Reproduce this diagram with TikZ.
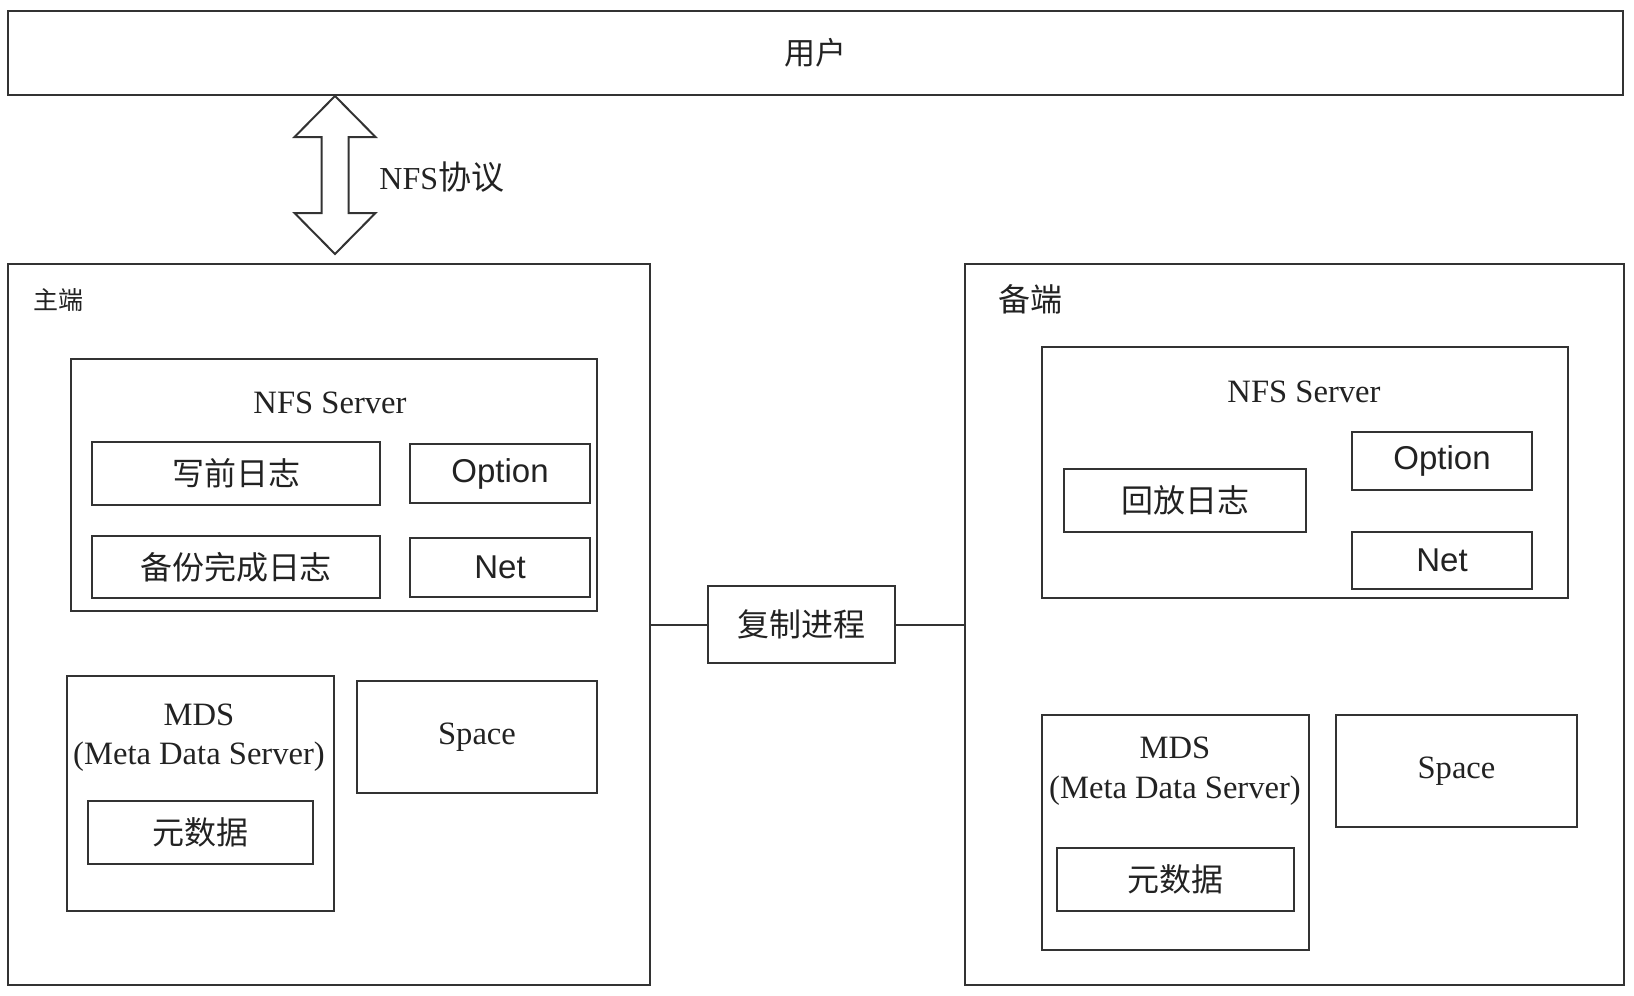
\documentclass[tikz,border=0pt]{standalone}
\usepackage{fontspec}
\setmainfont{Liberation Serif}
\newfontfamily\cjk{Noto Sans CJK SC}
\newfontfamily\hel{Liberation Sans}
\usetikzlibrary{fit,calc}
\definecolor{linec}{HTML}{333333}
\definecolor{inkc}{HTML}{222222}
\begin{document}
\begin{tikzpicture}[x=0.5pt,y=-0.5pt,
  box/.style={draw=linec, line width=1pt, inner sep=0pt},
  cn/.style={font=\cjk\fontsize{16}{19}\selectfont},
  sn/.style={font=\hel\fontsize{16.5}{19}\selectfont},
  rn/.style={font=\rmfamily\fontsize{16.3}{19}\selectfont},
  lbl/.style={inner sep=0pt, text=inkc}]
\useasboundingbox (0,0) rectangle (1634,996);

% user
\node[box, fit={(8,11) (1623,95)}] (user) {};
\node[lbl, font=\cjk\fontsize{15.5}{18}\selectfont] (usert) at (user.center) {用户};

% main side
\node[box, fit={(8,264) (650,985)}] (main) {};
\node[lbl, font=\cjk\fontsize{12.5}{15}\selectfont] (mainlbl) at (58,300) {主端};
\node[box, fit={(71,359) (597,611)}] (nfsL) {};
\node[lbl, rn] (nfsLt) at (330,403) {NFS Server};
\node[box, fit={(92,442) (380,505)}] (wal) {};
\node[lbl, cn] (walt) at (wal.center) {写前日志};
\node[box, fit={(410,444) (590,503)}] (optL) {};
\node[lbl, sn] (optLt) at (optL.center) {Option};
\node[box, fit={(92,536) (380,598)}] (bak) {};
\node[lbl, cn] (bakt) at (bak.center) {备份完成日志};
\node[box, fit={(410,538) (590,597)}] (netL) {};
\node[lbl, sn] (netLt) at (netL.center) {Net};
\node[box, fit={(67,676) (334,911)}] (mdsL) {};
\node[lbl, rn] (mdsLt) at (199,715) {MDS};
\node[lbl, rn] (mdsLt2) at (199,757) {(Meta Data Server)};
\node[box, fit={(88,801) (313,864)}] (metaL) {};
\node[lbl, cn] (metaLt) at (metaL.center) {元数据};
\node[box, fit={(357,681) (597,793)}] (spaceL) {};
\node[lbl, rn] (spaceLt) at (spaceL.center) {Space};

% replication
\node[box, fit={(708,586) (895,663)}] (rep) {};
\node[lbl, cn] (rept) at (rep.center) {复制进程};

% backup side
\node[box, fit={(965,264) (1624,985)}] (backup) {};
\node[lbl, cn] (backuplbl) at (1030,299) {备端};
\node[box, fit={(1042,347) (1568,598)}] (nfsR) {};
\node[lbl, rn] (nfsRt) at (1304,392) {NFS Server};
\node[box, fit={(1064,469) (1306,532)}] (replay) {};
\node[lbl, cn] (replayt) at (replay.center) {回放日志};
\node[box, fit={(1352,432) (1532,490)}] (optR) {};
\node[lbl, sn] (optRt) at (optR.center) {Option};
\node[box, fit={(1352,532) (1532,589)}] (netR) {};
\node[lbl, sn] (netRt) at (netR.center) {Net};
\node[box, fit={(1042,715) (1309,950)}] (mdsR) {};
\node[lbl, rn] (mdsRt) at (1175,748) {MDS};
\node[lbl, rn] (mdsRt2) at (1175,791) {(Meta Data Server)};
\node[box, fit={(1057,848) (1294,911)}] (metaR) {};
\node[lbl, cn] (metaRt) at (metaR.center) {元数据};
\node[box, fit={(1336,715) (1577,827)}] (spaceR) {};
\node[lbl, rn] (spaceRt) at (spaceR.center) {Space};

% connectors
\draw[linec, line width=1pt] (rep.west -| main.east) -- (rep.west);
\draw[linec, line width=1pt] (rep.east) -- (rep.east -| backup.west);

% double arrow NFS
\coordinate (atop) at (user.south -| 335,0);
\coordinate (abot) at ($(main.north -| 335,0)+(0,-9)$);
\draw[linec, line width=1pt, fill=white, line join=miter]
  (atop) -- ($(atop)+(40.5,41)$) -- ($(atop)+(13.5,41)$) -- ($(abot)+(13.5,-41)$)
  -- ($(abot)+(40.5,-41)$) -- (abot) -- ($(abot)+(-40.5,-41)$) -- ($(abot)+(-13.5,-41)$)
  -- ($(atop)+(-13.5,41)$) -- ($(atop)+(-40.5,41)$) -- cycle;
\node[lbl, anchor=west, font=\fontsize{16}{18}\selectfont] (nfsproto) at (379,177) {NFS{\cjk\fontsize{16.5}{18}\selectfont 协议}};
\end{tikzpicture}
\end{document}
